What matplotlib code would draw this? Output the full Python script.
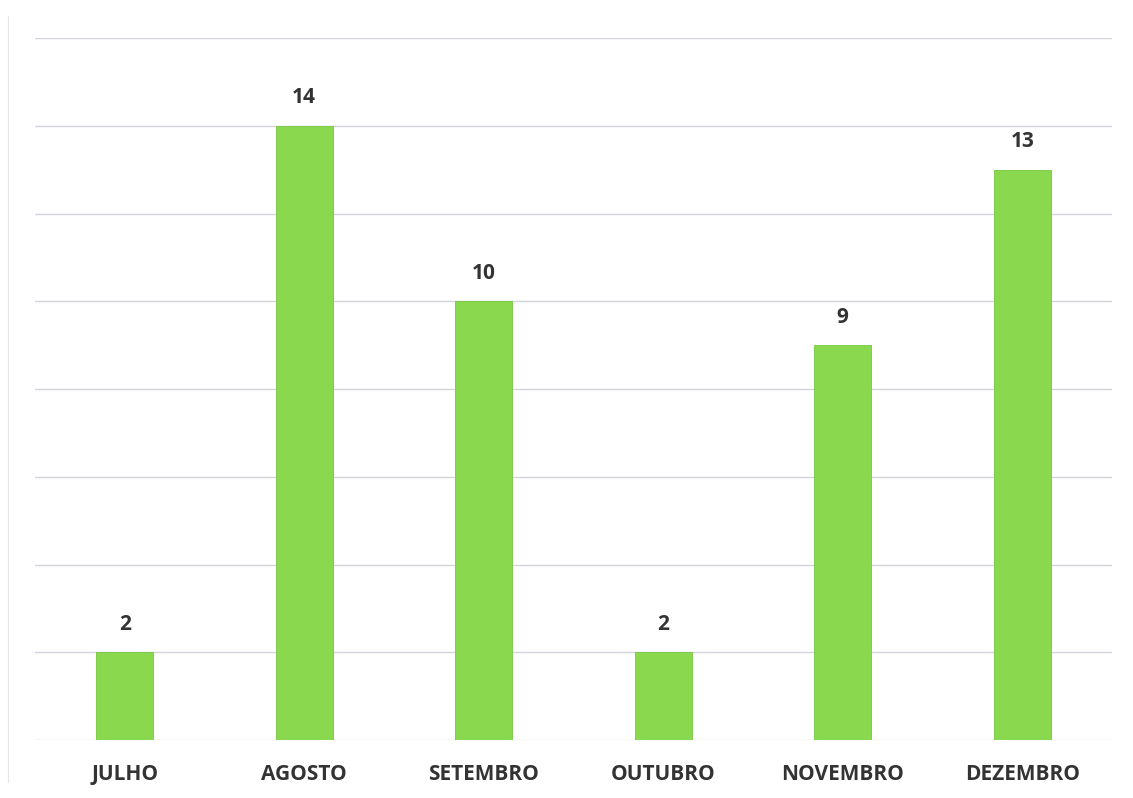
import matplotlib.pyplot as plt

meses = ['JULHO', 'AGOSTO', 'SETEMBRO', 'OUTUBRO', 'NOVEMBRO', 'DEZEMBRO']
valores = [2, 14, 10, 2, 9, 13]

plt.rcParams['font.family'] = ['Open Sans', 'DejaVu Sans']

fig = plt.figure(figsize=(11.33, 7.98), dpi=100)
ax = fig.add_axes([35/1133, 58/798, (1112-35)/1133, (740-38)/798])

x = range(len(meses))
bars = ax.bar(x, valores, width=0.32, color='#8ad84e', edgecolor='#76c640', linewidth=0.6, zorder=3)
for b, v in zip(bars, valores):
    ax.text(b.get_x() + b.get_width()/2, v + 0.4, str(v), ha='center', va='bottom',
            fontsize=15, fontweight='bold', color='#333333')

ax.set_xlim(-0.5, len(meses) - 0.5)
ax.set_ylim(0, 16)
ax.set_yticks(range(0, 17, 2))
ax.yaxis.grid(True, color='#d4d4dc', linewidth=1)
ax.set_axisbelow(True)
ax.tick_params(axis='y', left=False, labelleft=False)
ax.tick_params(axis='x', length=0, pad=17)
ax.set_xticks(list(x))
ax.set_xticklabels(meses, fontsize=15, fontweight='bold', color='#333333')
for s in ax.spines.values():
    s.set_visible(False)

fig.add_artist(plt.Line2D([8/1133, 8/1133], [0.02, 0.98], color='#e6e6e6', linewidth=0.8))

fig.savefig('out.png', dpi=100)
